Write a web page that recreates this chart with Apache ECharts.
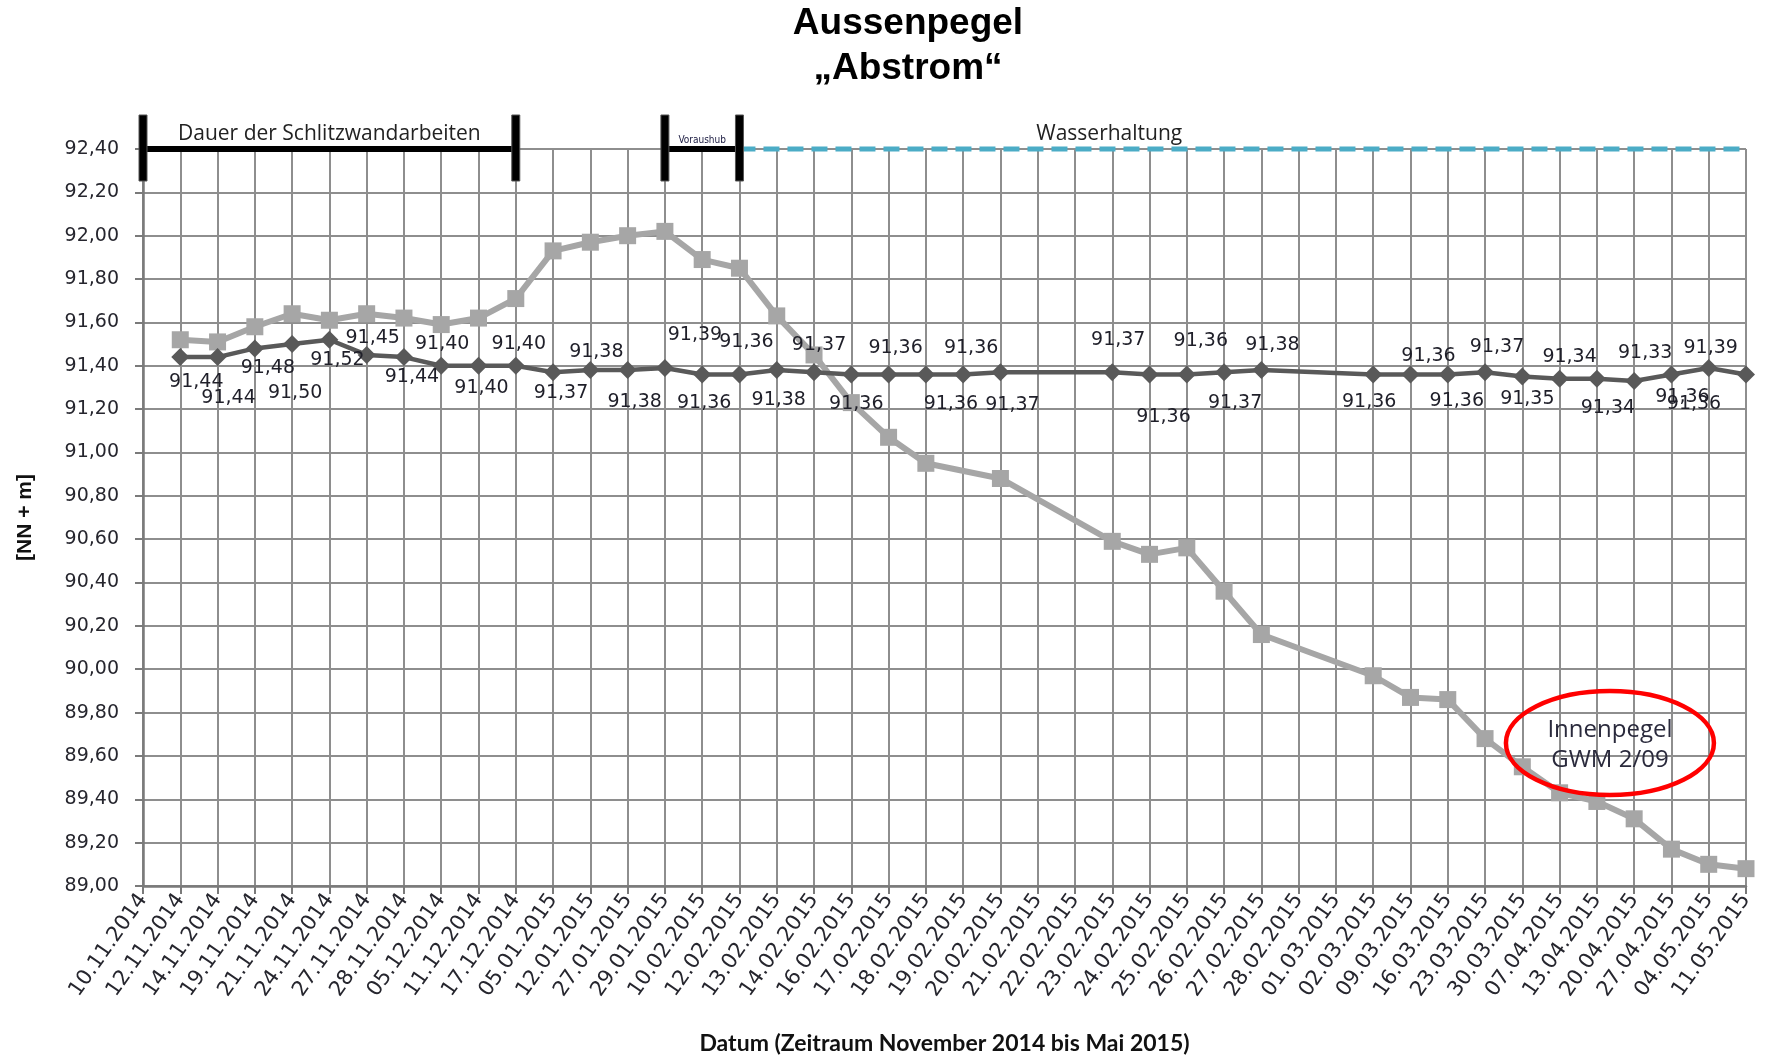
<!DOCTYPE html>
<html>
<head>
<meta charset="utf-8">
<title>Aussenpegel Abstrom</title>
<script src="https://cdn.jsdelivr.net/npm/echarts@6/dist/echarts.min.js"></script>
<style>
  html, body { margin: 0; padding: 0; background: #fff; }
  #chart { width: 1766px; height: 1057px; }
</style>
</head>
<body>
<div id="chart"></div>
<script>
// Messtage (Kategorieachse)
const dates = [
  '10.11.2014', '12.11.2014', '14.11.2014', '19.11.2014', '21.11.2014', '24.11.2014',
  '27.11.2014', '28.11.2014', '05.12.2014', '11.12.2014', '17.12.2014', '05.01.2015',
  '12.01.2015', '27.01.2015', '29.01.2015', '10.02.2015', '12.02.2015', '13.02.2015',
  '14.02.2015', '16.02.2015', '17.02.2015', '18.02.2015', '19.02.2015', '20.02.2015',
  '21.02.2015', '22.02.2015', '23.02.2015', '24.02.2015', '25.02.2015', '26.02.2015',
  '27.02.2015', '28.02.2015', '01.03.2015', '02.03.2015', '09.03.2015', '16.03.2015',
  '23.03.2015', '30.03.2015', '07.04.2015', '13.04.2015', '20.04.2015', '27.04.2015',
  '04.05.2015', '11.05.2015'
]

// Aussenpegel Abstrom [NN + m] (dunkle Linie, mit Werten)
const aussenpegel = [
  null, 91.44, 91.44, 91.48, 91.50, 91.52, 91.45, 91.44, 91.40, 91.40, 91.40, 91.37,
  91.38, 91.38, 91.39, 91.36, 91.36, 91.38, 91.37, 91.36, 91.36, 91.36, 91.36, 91.37,
  null, null, 91.37, 91.36, 91.36, 91.37, 91.38, null, null, 91.36, 91.36, 91.36,
  91.37, 91.35, 91.34, 91.34, 91.33, 91.36, 91.39, 91.36
]

// Innenpegel GWM 2/09 [NN + m] (helle Linie)
const innenpegel = [
  null, 91.52, 91.51, 91.58, 91.64, 91.61, 91.64, 91.62, 91.59, 91.62, 91.71, 91.93,
  91.97, 92.00, 92.02, 91.89, 91.85, 91.63, 91.45, 91.23, 91.07, 90.95, null, 90.88,
  null, null, 90.59, 90.53, 90.56, 90.36, 90.16, null, null, 89.97, 89.87, 89.86,
  89.68, 89.55, 89.43, 89.39, 89.31, 89.17, 89.10, 89.08
]

// y-Achse
const yMin = 89.0
const yMax = 92.4
const yStep = 0.2

// Bauphasen (Index in dates)
const phases = [
  { name: 'Dauer der Schlitzwandarbeiten', from: 0, to: 10 },
  { name: 'Voraushub', from: 14, to: 16 },
  { name: 'Wasserhaltung', from: 16, to: 43 }
]

// Lage der Wertbeschriftungen (wie im Original von Hand verschoben) [dx, dy]
const labelOffset = [
  null, [16, 25], [11, 41], [13, 20], [3, 49], [8, 20], [6, -17], [8, 20], [1, -22], [3, 22],
  [3, -22], [8, 21], [6, -18], [7, 32], [30, -33], [2, 29], [7, -32], [2, 30], [5, -27],
  [5, 30], [7, -26], [25, 30], [8, -26], [12, 33], null, null, [6, -32], [14, 43],
  [14, -33], [11, 31], [11, -25], null, null, [-4, 28], [18, -18], [9, 27], [12, -25],
  [5, 22], [10, -22], [11, 29], [11, -28], [11, 23], [2, -20], [-52, 30]
]

const fmt = v => v.toFixed(2).replace('.', ',')
const textColor = '#26262e'
const gridColor = '#8e8e8e'

const chart = echarts.init(document.getElementById('chart'))

const option = {
  animation: false,
  backgroundColor: '#fff',
  grid: { left: 143, right: 20, top: 149, bottom: 171, containLabel: false, outerBoundsMode: 'none' },
  xAxis: {
    type: 'category',
    data: dates,
    boundaryGap: false,
    name: 'Datum (Zeitraum November 2014 bis Mai 2015)',
    nameLocation: 'middle',
    nameGap: 146,
    nameTextStyle: { fontFamily: 'Lato', fontWeight: 'bold', fontSize: 23, color: '#111' },
    axisLine: { lineStyle: { color: '#7a7a7a', width: 2.5 } },
    axisTick: { show: true, length: 8, lineStyle: { color: '#7a7a7a', width: 2 } },
    axisLabel: {
      interval: 0,
      rotate: 55,
      margin: 10,
      fontFamily: 'DejaVu Sans',
      fontSize: 21,
      color: textColor
    },
    splitLine: { show: true, lineStyle: { color: gridColor, width: 2 } }
  },
  yAxis: {
    type: 'value',
    min: yMin,
    max: yMax,
    interval: yStep,
    name: '[NN + m]',
    nameLocation: 'middle',
    nameGap: 107,
    nameTextStyle: { fontFamily: 'Liberation Sans', fontWeight: 'bold', fontSize: 21, color: '#111' },
    axisLine: { show: true, lineStyle: { color: '#7a7a7a', width: 2.5 } },
    axisTick: { show: true, length: 8, lineStyle: { color: '#7a7a7a', width: 2 } },
    axisLabel: {
      margin: 24,
      fontFamily: 'DejaVu Sans',
      fontSize: 19,
      color: textColor,
      formatter: fmt
    },
    splitLine: { show: true, lineStyle: { color: gridColor, width: 2 } }
  },
  series: [
    {
      name: 'Innenpegel GWM 2/09',
      type: 'line',
      data: innenpegel,
      connectNulls: true,
      symbol: 'rect',
      symbolSize: 17,
      lineStyle: { color: '#a6a6a6', width: 6 },
      itemStyle: { color: '#a6a6a6' }
    },
    {
      name: 'Aussenpegel Abstrom',
      type: 'line',
      data: aussenpegel.map((v, i) => v == null ? null : {
        value: v,
        label: { offset: labelOffset[i] }
      }),
      connectNulls: true,
      symbol: 'diamond',
      symbolSize: 18,
      lineStyle: { color: '#595959', width: 4.5 },
      itemStyle: { color: '#595959' },
      label: {
        show: true,
        position: 'inside',
        fontFamily: 'DejaVu Sans',
        fontSize: 19,
        color: '#1f1f29',
        formatter: p => fmt(p.value)
      }
    }
  ]
}

chart.setOption(option)

// Beschriftung oberhalb der Grafik: Titel, Bauphasen, Markierung Innenpegel
const toPx = (i, v) => chart.convertToPixel({ gridIndex: 0 }, [i, v])
const yTop = toPx(0, yMax)[1]
const xAt = i => toPx(i, yMax)[0]

const bracket = (x1, x2) => [
  { type: 'line', z: 20, shape: { x1, y1: yTop, x2, y2: yTop }, style: { stroke: '#000', lineWidth: 6 } },
  { type: 'rect', z: 21, shape: { x: x1 - 4, y: yTop - 34, width: 8, height: 66 }, style: { fill: '#000', stroke: '#555', lineWidth: 1 } },
  { type: 'rect', z: 21, shape: { x: x2 - 4, y: yTop - 34, width: 8, height: 66 }, style: { fill: '#000', stroke: '#555', lineWidth: 1 } }
]

const [schlitz, vorhub, wasser] = phases
const sx1 = xAt(schlitz.from), sx2 = xAt(schlitz.to)
const vx1 = xAt(vorhub.from), vx2 = xAt(vorhub.to)
const wx1 = xAt(wasser.from), wx2 = xAt(wasser.to)

const ell = toPx(39, 89.66)
const step = xAt(1) - xAt(0)

chart.setOption({
  graphic: [
    {
      type: 'text', x: 908, y: 24, z: 30,
      style: { text: 'Aussenpegel', font: 'bold 37px "Liberation Sans"', fill: '#000', align: 'center', verticalAlign: 'middle' }
    },
    {
      type: 'text', x: 908, y: 69, z: 30,
      style: { text: '„Abstrom“', font: 'bold 37px "Liberation Sans"', fill: '#000', align: 'center', verticalAlign: 'middle' }
    },
    ...bracket(sx1, sx2),
    {
      type: 'text', x: (sx1 + sx2) / 2, y: yTop - 15, z: 30,
      style: { text: schlitz.name, font: '21px "Open Sans"', fill: '#222', align: 'center', verticalAlign: 'middle' }
    },
    {
      type: 'line', z: 19,
      shape: { x1: wx1, y1: yTop, x2: wx2, y2: yTop },
      style: { stroke: '#4bacc6', lineWidth: 5, lineDash: [16, 8] }
    },
    ...bracket(vx1, vx2),
    {
      type: 'text', x: (vx1 + vx2) / 2, y: yTop - 9, z: 30,
      style: { text: vorhub.name, font: '10px "DejaVu Sans Condensed"', fill: '#1a1a40', align: 'center', verticalAlign: 'middle' }
    },
    {
      type: 'text', x: xAt(26) - 3, y: yTop - 15, z: 30,
      style: { text: wasser.name, font: '21px "Open Sans"', fill: '#222', align: 'center', verticalAlign: 'middle' }
    },
    {
      type: 'ellipse', z: 30,
      shape: { cx: ell[0] + 0.35 * step, cy: ell[1], rx: 104, ry: 52 },
      style: { fill: null, stroke: '#ff0000', lineWidth: 4.5 }
    },
    {
      type: 'text', x: ell[0] + 0.35 * step, y: ell[1] + 2, z: 31,
      style: { text: 'Innenpegel\nGWM 2/09', font: '24px "Open Sans"', lineHeight: 30, fill: '#2a2a3c', align: 'center', verticalAlign: 'middle' }
    }
  ]
})
</script>
</body>
</html>
